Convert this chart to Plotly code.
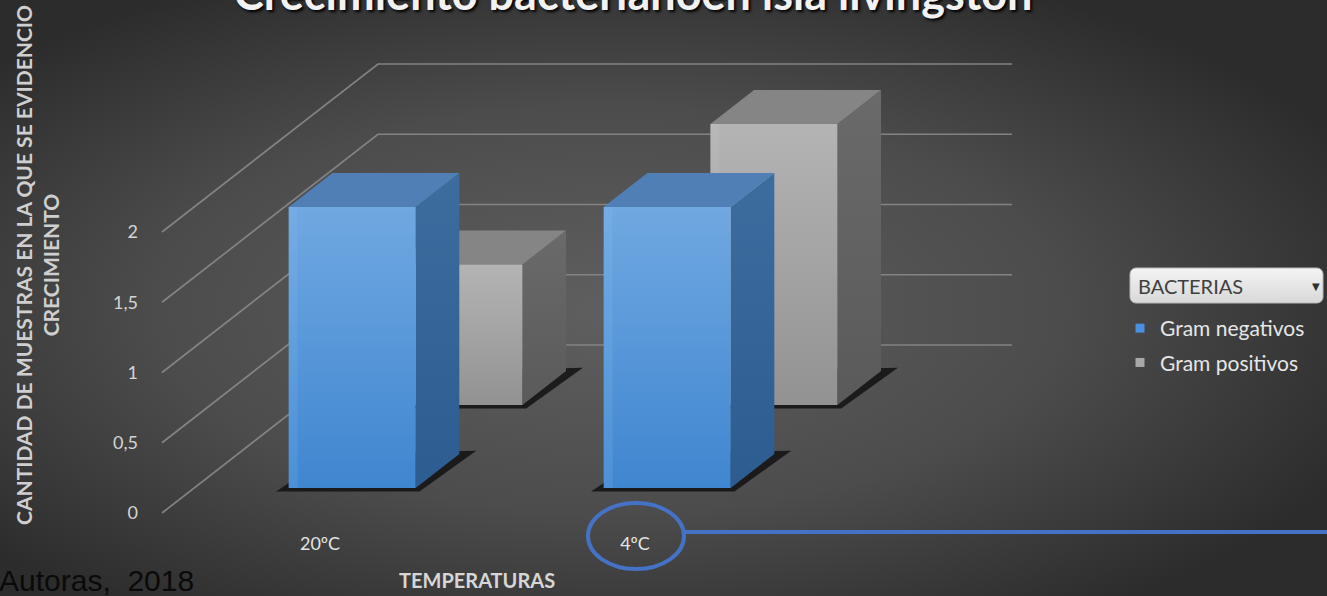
import base64
import plotly.graph_objects as go

# ---- data -------------------------------------------------------------
categories = ["20ºC", "4ºC"]
series_names = ["Gram negativos", "Gram positivos"]
gram_negativos = [2, 2]
gram_positivos = [1, 2]
y_ticks = [0, 0.5, 1, 1.5, 2]

chart_title = "Crecimiento bacterianoen isla livingston"
y_title = "CANTIDAD DE MUESTRAS EN LA QUE SE EVIDENCIO<br>CRECIMIENTO"
x_title = "TEMPERATURAS"
legend_title = "BACTERIAS"
source_note = "Autoras,  2018"

# ---- layout geometry ----------------------------------------------------
W, H = 1327, 596
ML, MR, MT, MB = 158, 227, 0, 66
PW, PH = W - ML - MR, H - MT - MB

X_UNIT = 315.0   # px per category step
Y_UNIT = 140.5   # px per value unit
X_ORIGIN = 320   # px of first category on the front plane
Y_ORIGIN = 513   # px of value 0 on the front plane

x_range = [-(X_ORIGIN - ML) / X_UNIT, (W - MR - X_ORIGIN) / X_UNIT]
y_range = [-(MT + PH - Y_ORIGIN) / Y_UNIT, (Y_ORIGIN - MT) / Y_UNIT]

# oblique depth projection (depth 0 = front plane, 1 = back wall)
DX = 216 / X_UNIT
DY = 168 / Y_UNIT
WALL_L = (162 - X_ORIGIN) / X_UNIT
WALL_R = (1012 - 216 - X_ORIGIN) / X_UNIT
HALF_W = 127 / X_UNIT / 2
ROWS = [(0.149, 0.351), (0.643, 0.845)]  # (front, back) depth for each series


def px(xp):
    return (xp - ML) / PW


def py(yp):
    return (MT + PH - yp) / PH


def proj(pts):
    xs = [p[0] + p[2] * DX for p in pts]
    ys = [p[1] + p[2] * DY for p in pts]
    return xs + [xs[0]], ys + [ys[0]]


def face(pts, color=None, grad=None, opacity=1.0):
    xs, ys = proj(pts)
    kw = dict(fillcolor=color) if grad is None else dict(
        fillgradient=dict(type="vertical", colorscale=[[0, grad[0]], [1, grad[1]]]))
    return go.Scatter(x=xs, y=ys, mode="lines", fill="toself", line=dict(width=0),
                      opacity=opacity, hoverinfo="skip", showlegend=False, **kw)


styles = [
    dict(front=("#3f86d0", "#70a8e1"), side=("#2d5d90", "#3d6d9f"), top="#4f7fb5",
         strip="rgba(140,195,245,0.18)", legend="#4a90e2"),
    dict(front=("#929292", "#b4b4b4"), side=("#5a5a5a", "#6a6a6a"), top="#858585",
         strip="rgba(210,210,210,0.12)", legend="#a8a8a8"),
]

fig = go.Figure()

# wall gridlines: left wall runs into the back wall
gx, gy = [], []
for v in y_ticks:
    gx += [WALL_L, WALL_L + DX, WALL_R + DX, None]
    gy += [v, v + DY, v + DY, None]
fig.add_trace(go.Scatter(x=gx, y=gy, mode="lines", line=dict(color="#838383", width=1.7),
                         hoverinfo="skip", showlegend=False))

# bars, back row first so the front row covers it
series_values = [gram_negativos, gram_positivos]
strip_w = 9 / X_UNIT
for si in [1, 0]:
    d0, d1 = ROWS[si]
    st = styles[si]
    for ci, v in enumerate(series_values[si]):
        c = ci
        l, r = c - HALF_W, c + HALF_W
        ex, ey = 0.04, 0.025
        fig.add_trace(face([(l - ex, -ey, d0), (r + ex * 0.3, -ey, d0),
                            (r + ex, 0, d1 + 0.02), (l, 0, d1)], color="#121212", opacity=0.85))
        fig.add_trace(face([(r, 0, d0), (r, 0, d1), (r, v, d1), (r, v, d0)], grad=st["side"]))
        fig.add_trace(face([(l, v, d0), (r, v, d0), (r, v, d1), (l, v, d1)], color=st["top"]))
        fig.add_trace(face([(l, 0, d0), (r, 0, d0), (r, v, d0), (l, v, d0)], grad=st["front"]))
        fig.add_trace(face([(l, 0, d0), (l + strip_w, 0, d0), (l + strip_w, v, d0), (l, v, d0)],
                           color=st["strip"]))

# legend entries
for name, st in zip(series_names, styles):
    fig.add_trace(go.Scatter(x=[None], y=[None], mode="markers", name=name, legendgroup=name,
                             marker=dict(symbol="square", size=9, color=st["legend"])))

# radial background with the rounded filter box of the legend
svg = (
    f'<svg xmlns="http://www.w3.org/2000/svg" width="{W}" height="{H}">'
    '<defs><radialGradient id="g" cx="0.46" cy="0.52" r="0.62">'
    '<stop offset="0" stop-color="#5f5f5f"/><stop offset="0.55" stop-color="#4c4c4c"/>'
    '<stop offset="1" stop-color="#2c2c2c"/></radialGradient>'
    '<linearGradient id="b" x1="0" y1="0" x2="0" y2="1">'
    '<stop offset="0" stop-color="#f4f4f4"/><stop offset="1" stop-color="#d8d8d8"/>'
    '</linearGradient></defs>'
    f'<rect width="{W}" height="{H}" fill="url(#g)"/>'
    '<rect x="1130" y="268" width="193" height="35" rx="6" ry="6" fill="url(#b)" '
    'stroke="#b8b8b8" stroke-width="1"/></svg>'
)
bg_uri = "data:image/svg+xml;base64," + base64.b64encode(svg.encode()).decode()

fig.update_layout(
    width=W, height=H,
    margin=dict(l=ML, r=MR, t=MT, b=MB),
    paper_bgcolor="#3a3a3a", plot_bgcolor="rgba(0,0,0,0)",
    separators=", ",
    font=dict(family="Lato", color="#d9d9d9"),
    images=[dict(source=bg_uri, xref="paper", yref="paper", x=px(0), y=py(0),
                 sizex=W / PW, sizey=H / PH, sizing="stretch", layer="below",
                 xanchor="left", yanchor="top")],
    xaxis=dict(range=x_range, showgrid=False, zeroline=False, showline=False,
               tickvals=list(range(len(categories))), ticktext=categories, ticks="",
               tickfont=dict(family="Lato", size=18, color="#e4e4e4"), ticklabelstandoff=1,
               fixedrange=True),
    yaxis=dict(range=y_range, showgrid=False, zeroline=False, showline=False,
               tickvals=y_ticks, ticks="", ticklabelstandoff=19,
               tickfont=dict(family="Lato", size=18, color="#d4d4d4"), fixedrange=True),
    legend=dict(x=px(1120), y=py(308), xanchor="left", yanchor="top",
                font=dict(family="Lato", size=21, color="#e6e6e6"),
                tracegroupgap=4, bgcolor="rgba(0,0,0,0)", itemwidth=30),
    showlegend=True,
)

annotations = [
    dict(text=chart_title, x=0.5 * (px(233) + px(1033)), y=py(-7), xref="paper", yref="paper",
         xanchor="center", yanchor="middle", showarrow=False,
         font=dict(family="Lato", size=45, color="#f2f2f2", weight="bold",
                   shadow="2px 2px 3px #000")),
    dict(text=y_title, x=px(37), y=py(265), xref="paper", yref="paper", textangle=-90,
         xanchor="center", yanchor="middle", showarrow=False,
         font=dict(family="Lato", size=21, color="#cfcfcf", weight="bold")),
    dict(text=x_title, x=px(477), y=py(580), xref="paper", yref="paper",
         xanchor="center", yanchor="middle", showarrow=False,
         font=dict(family="Lato", size=20, color="#d6d6d6", weight="bold")),
    dict(text=source_note, x=px(-3), y=py(580), xref="paper", yref="paper",
         xanchor="left", yanchor="middle", showarrow=False,
         font=dict(family="Liberation Sans", size=30, color="#0a0a0a")),
    dict(text=legend_title, x=px(1136), y=py(286), xref="paper", yref="paper",
         xanchor="left", yanchor="middle", showarrow=False,
         font=dict(family="Lato", size=20, color="#404040")),
    dict(text="▼", x=px(1316), y=py(286), xref="paper", yref="paper",
         xanchor="center", yanchor="middle", showarrow=False,
         font=dict(family="DejaVu Sans", size=10, color="#303030")),
]
fig.update_layout(annotations=annotations)

fig.update_layout(shapes=[
    dict(type="circle", xref="paper", yref="paper", x0=px(588), x1=px(684), y0=py(569), y1=py(503),
         line=dict(color="#4472c4", width=4)),
    dict(type="line", xref="paper", yref="paper", x0=px(684), x1=px(W + 2), y0=py(532), y1=py(532),
         line=dict(color="#4472c4", width=4)),
])

fig.write_html("out.html")
